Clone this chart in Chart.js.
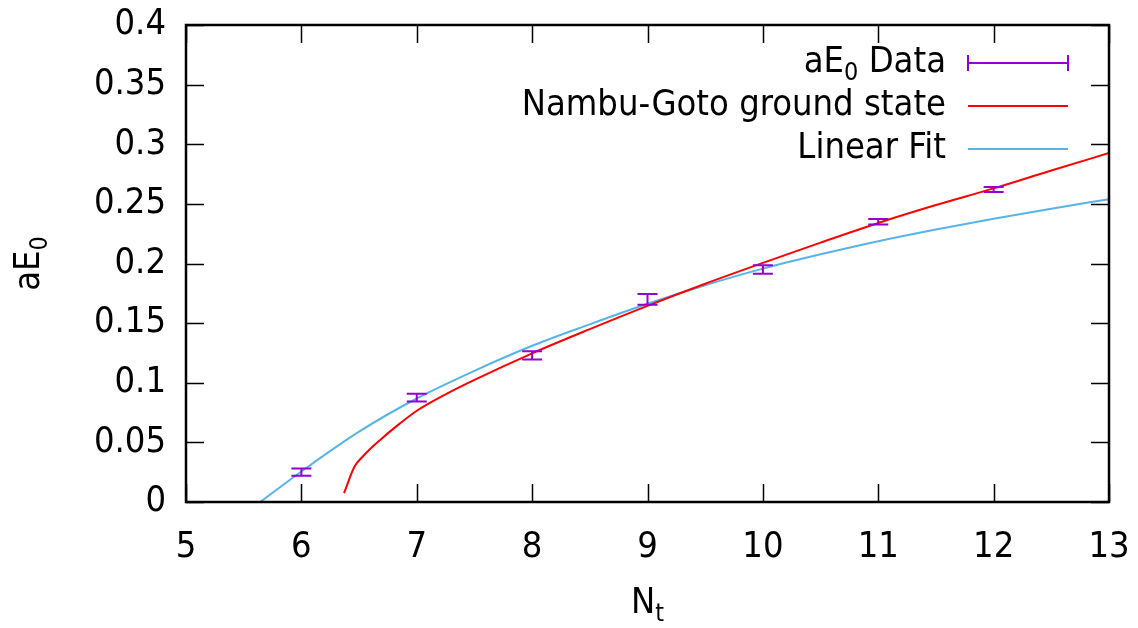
<!DOCTYPE html>
<html>
<head>
<meta charset="utf-8">
<script src="https://cdn.jsdelivr.net/npm/chart.js@4.4.1/dist/chart.umd.min.js"></script>
<style>
  html, body { margin: 0; padding: 0; background: #fff; }
  #wrap { width: 1138px; height: 628px; }
</style>
</head>
<body>
<div id="wrap"><canvas id="c" width="1138" height="628"></canvas></div>
<script>
// ---- data ----
const nt = [6, 7, 8, 9, 10, 11, 12];
const aE0 = [0.025, 0.0875, 0.123, 0.170, 0.195, 0.235, 0.262];
const aE0Err = [0.003, 0.0032, 0.0034, 0.0045, 0.0035, 0.0024, 0.0021];

const ngX = [6.37, 6.46, 6.54, 6.7, 6.85, 7, 7.25, 7.5, 8, 8.5, 9, 9.5, 10, 10.5, 11, 11.5, 12, 12.5, 13];
const ngY = [0.0075, 0.0295, 0.039, 0.0535, 0.0655, 0.0765, 0.0903, 0.1024, 0.1247, 0.145, 0.1645, 0.183, 0.2005, 0.2175, 0.234, 0.249, 0.263, 0.278, 0.2926];

const fitX = [5.643, 6, 6.5, 7, 7.5, 8, 8.5, 9, 9.5, 10, 10.5, 11, 11.5, 12, 12.5, 13];
const fitY = [0, 0.0256, 0.059, 0.0868, 0.110, 0.131, 0.149, 0.1662, 0.1818, 0.1957, 0.2077, 0.2187, 0.2285, 0.2375, 0.246, 0.2539];

const xTicks = [5, 6, 7, 8, 9, 10, 11, 12, 13];
const yTicks = [0, 0.05, 0.1, 0.15, 0.2, 0.25, 0.3, 0.35, 0.4];

// legend labels as [text, isSubscript] pieces
const legendData = [['aE', false], ['0', true], [' Data', false]];
const legendNG = [['Nambu-Goto ground state', false]];
const legendFit = [['Linear Fit', false]];
const xTitle = [['N', false], ['t', true]];
const yTitle = [['aE', false], ['0', true]];

const FONT = '"DejaVu Sans Condensed", "DejaVu Sans", sans-serif';
const FS = 36;
const colData = '#9400d3';
const colNG = '#ff0000';
const colFit = '#56b4e9';

function richWidth(ctx, parts) {
  let w = 0;
  for (const [t, sub] of parts) {
    ctx.font = (sub ? Math.round(FS * 0.7) : FS) + 'px ' + FONT;
    w += ctx.measureText(t).width;
  }
  return w;
}
function drawRich(ctx, parts, x, y) { // x = left, y = middle
  ctx.textBaseline = 'middle';
  ctx.textAlign = 'left';
  for (const [t, sub] of parts) {
    ctx.font = (sub ? Math.round(FS * 0.7) : FS) + 'px ' + FONT;
    ctx.fillText(t, x, sub ? y + FS * 0.28 : y);
    x += ctx.measureText(t).width;
  }
}

const framePlugin = {
  id: 'frame',
  afterDatasetsDraw(chart) {
    const ctx = chart.ctx;
    const a = chart.chartArea;
    const xs = chart.scales.x, ys = chart.scales.y;
    ctx.save();
    // error bars
    ctx.strokeStyle = colData;
    ctx.lineWidth = 2;
    for (let i = 0; i < nt.length; i++) {
      const px = xs.getPixelForValue(nt[i]);
      const pt = ys.getPixelForValue(aE0[i] + aE0Err[i]);
      const pb = ys.getPixelForValue(aE0[i] - aE0Err[i]);
      ctx.beginPath();
      ctx.moveTo(px, pt); ctx.lineTo(px, pb);
      ctx.moveTo(px - 10, pt); ctx.lineTo(px + 10, pt);
      ctx.moveTo(px - 10, pb); ctx.lineTo(px + 10, pb);
      ctx.stroke();
    }
    // border and inward ticks
    ctx.strokeStyle = '#000';
    ctx.lineWidth = 1.5;
    ctx.beginPath();
    for (const v of xTicks) {
      const p = Math.round(xs.getPixelForValue(v)) + 0.5;
      ctx.moveTo(p, a.bottom); ctx.lineTo(p, a.bottom - 18);
      ctx.moveTo(p, a.top); ctx.lineTo(p, a.top + 18);
    }
    for (const v of yTicks) {
      const p = Math.round(ys.getPixelForValue(v)) + 0.5;
      ctx.moveTo(a.left, p); ctx.lineTo(a.left + 18, p);
      ctx.moveTo(a.right, p); ctx.lineTo(a.right - 18, p);
    }
    ctx.stroke();
    ctx.lineWidth = 2.5;
    ctx.strokeRect(a.left, a.top, a.right - a.left, a.bottom - a.top);

    // legend
    const rows = [
      {parts: legendData, y: 63, kind: 'err', color: colData},
      {parts: legendNG, y: 106, kind: 'line', color: colNG},
      {parts: legendFit, y: 149, kind: 'line', color: colFit}
    ];
    const textRight = 946, s0 = 968, s1 = 1068;
    for (const r of rows) {
      const w = richWidth(ctx, r.parts);
      ctx.fillStyle = '#000';
      drawRich(ctx, r.parts, textRight - w, r.y);
      ctx.strokeStyle = r.color;
      ctx.lineWidth = 2;
      ctx.beginPath();
      ctx.moveTo(s0, r.y); ctx.lineTo(s1, r.y);
      if (r.kind === 'err') {
        ctx.moveTo(s0, r.y - 8); ctx.lineTo(s0, r.y + 8);
        ctx.moveTo(s1, r.y - 8); ctx.lineTo(s1, r.y + 8);
      }
      ctx.stroke();
    }

    // axis titles
    ctx.fillStyle = '#000';
    const xw = richWidth(ctx, xTitle);
    drawRich(ctx, xTitle, (a.left + a.right) / 2 - xw / 2, 604);
    ctx.save();
    ctx.translate(30, (a.top + a.bottom) / 2);
    ctx.rotate(-Math.PI / 2);
    const yw = richWidth(ctx, yTitle);
    drawRich(ctx, yTitle, -yw / 2, 0);
    ctx.restore();
    ctx.restore();
  }
};

new Chart(document.getElementById('c'), {
  type: 'scatter',
  data: {
    datasets: [
      {
        label: 'aE0 Data',
        data: nt.map((x, i) => ({x, y: aE0[i]})),
        pointRadius: 0,
        showLine: false,
        borderColor: colData,
        backgroundColor: colData
      },
      {
        label: 'Nambu-Goto ground state',
        data: ngX.map((x, i) => ({x, y: ngY[i]})),
        showLine: true,
        pointRadius: 0,
        borderColor: colNG,
        borderWidth: 2,
        cubicInterpolationMode: 'monotone'
      },
      {
        label: 'Linear Fit',
        data: fitX.map((x, i) => ({x, y: fitY[i]})),
        showLine: true,
        pointRadius: 0,
        borderColor: colFit,
        borderWidth: 2,
        cubicInterpolationMode: 'monotone'
      }
    ]
  },
  options: {
    responsive: false,
    animation: false,
    devicePixelRatio: 1,
    layout: { padding: { left: 0, right: 29, top: 25, bottom: 0 } },
    plugins: { legend: { display: false }, tooltip: { enabled: false } },
    scales: {
      x: {
        type: 'linear', min: 5, max: 13,
        afterBuildTicks(s) { s.ticks = xTicks.map(v => ({value: v})); },
        afterFit(s) { s.height = 126; s.paddingLeft = 0; s.paddingRight = 0; },
        grid: { display: false, drawTicks: false },
        border: { display: false },
        ticks: { color: '#000', padding: 24, maxRotation: 0, font: { family: FONT, size: FS } }
      },
      y: {
        type: 'linear', min: 0, max: 0.4,
        afterBuildTicks(s) { s.ticks = yTicks.map(v => ({value: v})); },
        afterFit(s) { s.width = 186; s.paddingTop = 0; s.paddingBottom = 0; },
        grid: { display: false, drawTicks: false },
        border: { display: false },
        ticks: { color: '#000', padding: 20, font: { family: FONT, size: FS },
                 callback: v => String(+v.toFixed(2)) }
      }
    }
  },
  plugins: [framePlugin]
});
</script>
</body>
</html>
